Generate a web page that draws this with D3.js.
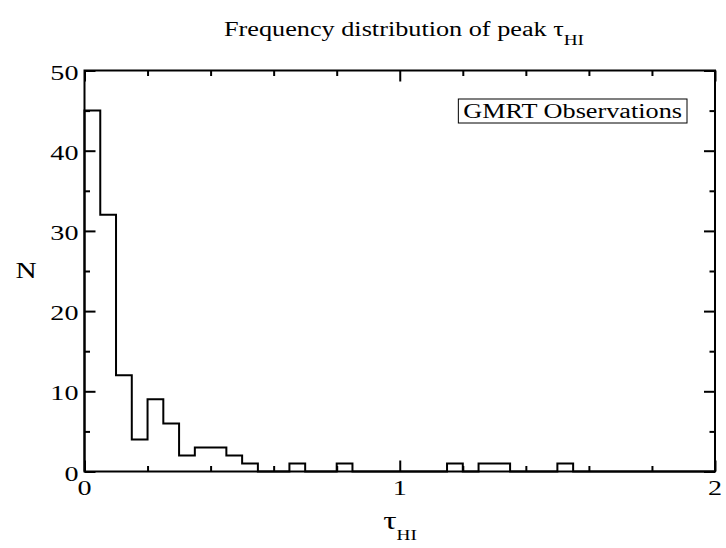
<!DOCTYPE html>
<html>
<head>
<meta charset="utf-8">
<script src="https://cdn.jsdelivr.net/npm/d3@7"></script>
<style>
  body { margin: 0; background: #fff; }
  svg text { font-family: "Liberation Serif", "Times New Roman", serif; fill: #000; }
</style>
</head>
<body>
<div id="chart"></div>
<script>
// bin edges are binStart + i * binWidth
const binStart = 0;
const binWidth = 0.05;
const counts = [45, 32, 12, 4, 9, 6, 2, 3, 3, 2, 1, 0, 0, 1, 0, 0, 1, 0, 0, 0,
                0, 0, 0, 1, 0, 1, 1, 0, 0, 0, 1, 0, 0, 0, 0, 0, 0, 0, 0, 0];
const xMajorTicks = [0, 1, 2];
const yMajorTicks = [0, 10, 20, 30, 40, 50];
const legendLabel = 'GMRT Observations';

const W = 726, H = 548;
const margin = { top: 70.5, right: 11, bottom: 76.5, left: 84.5 };
const width = W - margin.left - margin.right;
const height = H - margin.top - margin.bottom;
const SX = 1.28; // o texto do original é esticado na horizontal

const svg = d3.select('#chart').append('svg')
  .attr('width', W).attr('height', H);

const g = svg.append('g')
  .attr('transform', `translate(${margin.left},${margin.top})`);

const x = d3.scaleLinear().domain([0, 2]).range([0, width]);
const y = d3.scaleLinear().domain([0, 50]).range([height, 0]);

// texto esticado: grupo posicionado + scale horizontal
function stext(parent, px, py, size, anchor) {
  return parent.append('g')
    .attr('transform', `translate(${px},${py}) scale(${SX},1)`)
    .append('text')
    .attr('text-anchor', anchor)
    .attr('font-size', size);
}

// --- histograma em degraus ---
const pts = [[binStart, 0]];
counts.forEach((c, i) => {
  const x0 = binStart + i * binWidth;
  pts.push([x0, c], [x0 + binWidth, c]);
});
const line = d3.line().x(d => x(d[0])).y(d => y(d[1]));
g.append('path')
  .datum(pts)
  .attr('d', line)
  .attr('fill', 'none')
  .attr('stroke', '#000')
  .attr('stroke-width', 2);

// --- eixos (ticks para dentro, nos quatro lados) ---
const major = 11, minor = 5.5;
function styleAxis(sel) {
  sel.select('.domain').remove();
  sel.selectAll('line').attr('stroke', '#000').attr('stroke-width', 2);
}
const xMinor = d3.range(0, 2.001, 0.2).filter(v => Math.abs(v - Math.round(v)) > 1e-6);
const yMinor = d3.range(5, 50, 10);

const axes = [
  [d3.axisBottom, x, xMinor, xMajorTicks, `translate(0,${height})`],
  [d3.axisTop, x, xMinor, xMajorTicks, null],
  [d3.axisLeft, y, yMinor, yMajorTicks, null],
  [d3.axisRight, y, yMinor, yMajorTicks, `translate(${width},0)`]
];
axes.forEach(([axisFn, sc, mn, mj, tr]) => {
  g.append('g').attr('transform', tr)
    .call(axisFn(sc).tickValues(mn).tickSize(-minor).tickFormat(''))
    .call(styleAxis);
  g.append('g').attr('transform', tr)
    .call(axisFn(sc).tickValues(mj).tickSize(-major).tickFormat(''))
    .call(styleAxis);
});

// rótulos dos ticks
xMajorTicks.forEach(v => {
  stext(g, x(v), height + 23.5, 22, 'middle').text(d3.format('d')(v));
});
yMajorTicks.forEach(v => {
  stext(g, -6, y(v) + 9, 22, 'end').text(d3.format('d')(v));
});

// moldura
g.append('rect')
  .attr('width', width).attr('height', height)
  .attr('fill', 'none').attr('stroke', '#000').attr('stroke-width', 2);

// --- legenda ---
const boxRight = 687, boxTop = 99, boxH = 24;
const lt = stext(svg, boxRight - 5, boxTop + 19, 20.5, 'end').text(legendLabel);
const tw = lt.node().getComputedTextLength() * SX;
svg.insert('rect', 'g')
  .attr('x', boxRight - tw - 10).attr('y', boxTop)
  .attr('width', tw + 10).attr('height', boxH)
  .attr('fill', '#fff').attr('stroke', '#000').attr('stroke-width', 1);

// --- títulos ---
const title = stext(svg, 404, 36, 20.5, 'middle');
title.append('tspan').text('Frequency distribution of peak \u03C4');
title.append('tspan').attr('dy', 9).attr('font-size', 15).text('HI');

const xl = stext(svg, 400, 529, 26, 'middle');
xl.append('tspan').text('\u03C4');
xl.append('tspan').attr('dy', 11).attr('font-size', 15).text('HI');

stext(svg, 26, 278, 23, 'middle').text('N');
</script>
</body>
</html>
